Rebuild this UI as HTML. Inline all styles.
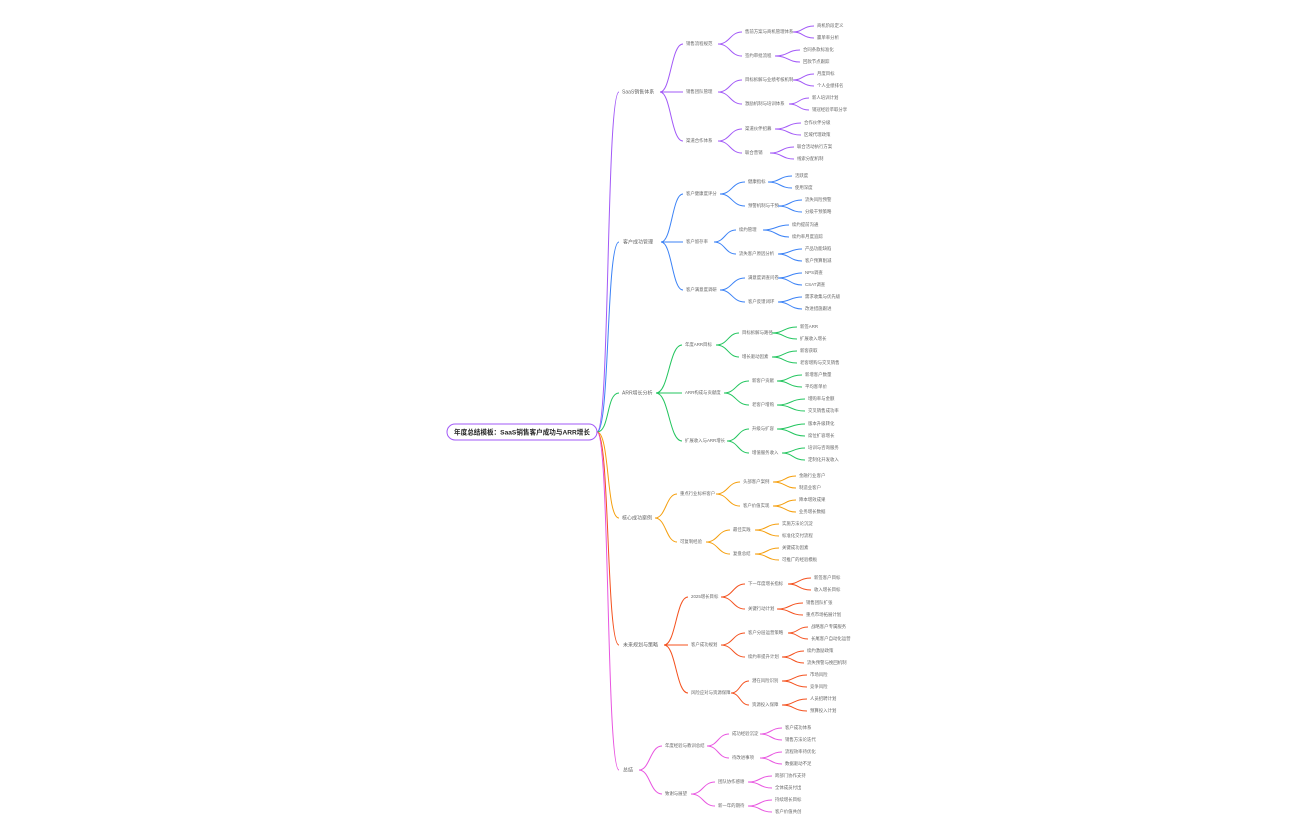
<!DOCTYPE html>
<html><head><meta charset="utf-8"><style>
html,body{margin:0;padding:0;background:#fff;}
svg{display:block}
text{font-family:"Liberation Sans","Noto Sans CJK SC",sans-serif;font-size:4.4px;fill:#666;dominant-baseline:middle}
.l1{font-size:5px}
path{fill:none;stroke-width:1}
.p{stroke:#a259f7}.b{stroke:#3b82f6}.g{stroke:#22c55e}.o{stroke:#f59e0b}.r{stroke:#f4511e}.m{stroke:#e855e0}
</style></head><body>
<svg width="1296" height="840" viewBox="0 0 1296 840" xmlns="http://www.w3.org/2000/svg">
<path class="p" d="M597 432 C610 432,606 92,619 92"/>
<path class="b" d="M597 432 C610 432,606 242,619 242"/>
<path class="g" d="M597 432 C610 432,606 393,619 393"/>
<path class="o" d="M597 432 C610 432,606 518,619 518"/>
<path class="r" d="M597 432 C610 432,606 645,619 645"/>
<path class="m" d="M597 432 C610 432,606 770,619 770"/>
<rect x="447" y="424" width="150" height="16" rx="8" fill="#fff" stroke="#a259f7" stroke-width="1"/>
<text x="522" y="432.5" text-anchor="middle" style="font-size:6.6px;font-weight:bold;fill:#222">年度总结模板：SaaS销售客户成功与ARR增长</text>

<text class="l1" x="622" y="92">SaaS销售体系</text>
<path class="p" d="M660 92 C671 92,671 44,683 44"/><path class="p" d="M660 92 C671 92,671 92,683 92"/><path class="p" d="M660 92 C671 92,671 141,683 141"/>
<text x="686" y="44">销售流程规范</text><text x="686" y="92">销售团队管理</text><text x="686" y="141">渠道合作体系</text>
<path class="p" d="M718 44 C730 44,730 32,742 32"/><path class="p" d="M718 44 C730 44,730 56,742 56"/>
<path class="p" d="M718 92 C730 92,730 80,742 80"/><path class="p" d="M718 92 C730 92,730 104,742 104"/>
<path class="p" d="M718 141 C730 141,730 129,742 129"/><path class="p" d="M718 141 C730 141,730 153,742 153"/>
<text x="745" y="32">售前方案与商机管理体系</text><text x="745" y="56">签约审批流程</text>
<text x="745" y="80">目标拆解与业绩考核机制</text><text x="745" y="104">激励机制与培训体系</text>
<text x="745" y="129">渠道伙伴招募</text><text x="745" y="153">联合营销</text>
<path class="p" d="M793 32 C803 32,803 26,814 26"/><path class="p" d="M793 32 C803 32,803 38,814 38"/>
<path class="p" d="M775 56 C788 56,788 50,800 50"/><path class="p" d="M775 56 C788 56,788 62,800 62"/>
<path class="p" d="M793 80 C803 80,803 74,814 74"/><path class="p" d="M793 80 C803 80,803 86,814 86"/>
<path class="p" d="M789 104 C799 104,799 98,809 98"/><path class="p" d="M789 104 C799 104,799 110,809 110"/>
<path class="p" d="M775 129 C788 129,788 123,801 123"/><path class="p" d="M775 129 C788 129,788 135,801 135"/>
<path class="p" d="M770 153 C782 153,782 147,794 147"/><path class="p" d="M770 153 C782 153,782 159,794 159"/>
<text x="817" y="26">商机阶段定义</text><text x="817" y="38">赢单率分析</text>
<text x="803" y="50">合同条款标准化</text><text x="803" y="62">回款节点跟踪</text>
<text x="817" y="74">月度目标</text><text x="817" y="86">个人业绩排名</text>
<text x="812" y="98">新人培训计划</text><text x="812" y="110">销冠经验萃取分享</text>
<text x="804" y="123">合作伙伴分级</text><text x="804" y="135">区域代理政策</text>
<text x="797" y="147">联合活动执行方案</text><text x="797" y="159">线索分配机制</text>

<text class="l1" x="623" y="242">客户成功管理</text>
<path class="b" d="M661 242 C672 242,672 194,683 194"/><path class="b" d="M661 242 C672 242,672 242,683 242"/><path class="b" d="M661 242 C672 242,672 290,683 290"/>
<text x="686" y="194">客户健康度评分</text><text x="686" y="242">客户留存率</text><text x="686" y="290">客户满意度调研</text>
<path class="b" d="M720 194 C732 194,732 182,745 182"/><path class="b" d="M720 194 C732 194,732 206,745 206"/>
<path class="b" d="M714 242 C725 242,725 230,736 230"/><path class="b" d="M714 242 C725 242,725 254,736 254"/>
<path class="b" d="M720 290 C732 290,732 278,745 278"/><path class="b" d="M720 290 C732 290,732 302,745 302"/>
<text x="748" y="182">健康指标</text><text x="748" y="206">预警机制与干预</text>
<text x="739" y="230">续约管理</text><text x="739" y="254">流失客户原因分析</text>
<text x="748" y="278">满意度调查问卷</text><text x="748" y="302">客户反馈闭环</text>
<path class="b" d="M768 182 C780 182,780 176,792 176"/><path class="b" d="M768 182 C780 182,780 188,792 188"/>
<path class="b" d="M778 206 C790 206,790 200,802 200"/><path class="b" d="M778 206 C790 206,790 212,802 212"/>
<path class="b" d="M763 230 C776 230,776 225,789 225"/><path class="b" d="M763 230 C776 230,776 237,789 237"/>
<path class="b" d="M778 254 C790 254,790 249,802 249"/><path class="b" d="M778 254 C790 254,790 261,802 261"/>
<path class="b" d="M778 278 C790 278,790 273,802 273"/><path class="b" d="M778 278 C790 278,790 285,802 285"/>
<path class="b" d="M778 302 C790 302,790 297,802 297"/><path class="b" d="M778 302 C790 302,790 309,802 309"/>
<text x="795" y="176">活跃度</text><text x="795" y="188">使用深度</text>
<text x="805" y="200">流失风险预警</text><text x="805" y="212">分级干预策略</text>
<text x="792" y="225">续约提前沟通</text><text x="792" y="237">续约率月度追踪</text>
<text x="805" y="249">产品功能缺陷</text><text x="805" y="261">客户预算削减</text>
<text x="805" y="273">NPS调查</text><text x="805" y="285">CSAT调查</text>
<text x="805" y="297">需求收集与优先级</text><text x="805" y="309">改进措施跟进</text>

<text class="l1" x="622" y="393">ARR增长分析</text>
<path class="g" d="M656 393 C669 393,669 345,682 345"/><path class="g" d="M656 393 C669 393,669 393,682 393"/><path class="g" d="M656 393 C669 393,669 441,682 441"/>
<text x="685" y="345">年度ARR目标</text><text x="685" y="393">ARR构成与贡献度</text><text x="685" y="441">扩展收入与ARR增长</text>
<path class="g" d="M716 345 C728 345,728 333,739 333"/><path class="g" d="M716 345 C728 345,728 357,739 357"/>
<path class="g" d="M724 393 C736 393,736 381,749 381"/><path class="g" d="M724 393 C736 393,736 405,749 405"/>
<path class="g" d="M727 441 C738 441,738 429,749 429"/><path class="g" d="M727 441 C738 441,738 453,749 453"/>
<text x="742" y="333">目标拆解与路径</text><text x="742" y="357">增长驱动因素</text>
<text x="752" y="381">新客户贡献</text><text x="752" y="405">老客户增购</text>
<text x="752" y="429">升级与扩容</text><text x="752" y="453">增值服务收入</text>
<path class="g" d="M772 333 C784 333,784 327,797 327"/><path class="g" d="M772 333 C784 333,784 339,797 339"/>
<path class="g" d="M772 357 C784 357,784 351,797 351"/><path class="g" d="M772 357 C784 357,784 363,797 363"/>
<path class="g" d="M777 381 C789 381,789 375,802 375"/><path class="g" d="M777 381 C789 381,789 387,802 387"/>
<path class="g" d="M777 405 C791 405,791 399,805 399"/><path class="g" d="M777 405 C791 405,791 411,805 411"/>
<path class="g" d="M777 429 C791 429,791 424,805 424"/><path class="g" d="M777 429 C791 429,791 436,805 436"/>
<path class="g" d="M782 453 C793 453,793 448,805 448"/><path class="g" d="M782 453 C793 453,793 460,805 460"/>
<text x="800" y="327">新签ARR</text><text x="800" y="339">扩展收入增长</text>
<text x="800" y="351">新客获取</text><text x="800" y="363">老客增购与交叉销售</text>
<text x="805" y="375">新增客户数量</text><text x="805" y="387">平均客单价</text>
<text x="808" y="399">增购率与金额</text><text x="808" y="411">交叉销售成功率</text>
<text x="808" y="424">版本升级转化</text><text x="808" y="436">席位扩容增长</text>
<text x="808" y="448">培训与咨询服务</text><text x="808" y="460">定制化开发收入</text>

<text class="l1" x="622" y="518">核心成功案例</text>
<path class="o" d="M655 518 C666 518,666 494,677 494"/><path class="o" d="M655 518 C666 518,666 542,677 542"/>
<text x="680" y="494">重点行业标杆客户</text><text x="680" y="542">可复制经验</text>
<path class="o" d="M716 494 C728 494,728 482,740 482"/><path class="o" d="M716 494 C728 494,728 506,740 506"/>
<path class="o" d="M706 542 C718 542,718 530,730 530"/><path class="o" d="M706 542 C718 542,718 554,730 554"/>
<text x="743" y="482">头部客户案例</text><text x="743" y="506">客户价值实现</text>
<text x="733" y="530">最佳实践</text><text x="733" y="554">复盘总结</text>
<path class="o" d="M773 482 C785 482,785 476,796 476"/><path class="o" d="M773 482 C785 482,785 488,796 488"/>
<path class="o" d="M773 506 C785 506,785 500,796 500"/><path class="o" d="M773 506 C785 506,785 512,796 512"/>
<path class="o" d="M755 530 C767 530,767 524,779 524"/><path class="o" d="M755 530 C767 530,767 536,779 536"/>
<path class="o" d="M755 554 C767 554,767 548,779 548"/><path class="o" d="M755 554 C767 554,767 560,779 560"/>
<text x="799" y="476">金融行业客户</text><text x="799" y="488">制造业客户</text>
<text x="799" y="500">降本增效成果</text><text x="799" y="512">业务增长数据</text>
<text x="782" y="524">实施方法论沉淀</text><text x="782" y="536">标准化交付流程</text>
<text x="782" y="548">关键成功因素</text><text x="782" y="560">可推广的经验模板</text>

<text class="l1" x="623" y="645">未来规划与策略</text>
<path class="r" d="M664 645 C676 645,676 597,688 597"/><path class="r" d="M664 645 C676 645,676 645,688 645"/><path class="r" d="M664 645 C676 645,676 693,688 693"/>
<text x="691" y="597">2025增长目标</text><text x="691" y="645">客户成功规划</text><text x="691" y="693">风险应对与资源保障</text>
<path class="r" d="M721 597 C733 597,733 584,745 584"/><path class="r" d="M721 597 C733 597,733 609,745 609"/>
<path class="r" d="M721 645 C733 645,733 633,745 633"/><path class="r" d="M721 645 C733 645,733 657,745 657"/>
<path class="r" d="M731 693 C740 693,740 681,749 681"/><path class="r" d="M731 693 C740 693,740 705,749 705"/>
<text x="748" y="584">下一年度增长指标</text><text x="748" y="609">关键行动计划</text>
<text x="748" y="633">客户分层运营策略</text><text x="748" y="657">续约率提升计划</text>
<text x="752" y="681">潜在风险识别</text><text x="752" y="705">资源投入保障</text>
<path class="r" d="M788 584 C799 584,799 578,811 578"/><path class="r" d="M788 584 C799 584,799 590,811 590"/>
<path class="r" d="M777 609 C790 609,790 603,803 603"/><path class="r" d="M777 609 C790 609,790 615,803 615"/>
<path class="r" d="M788 633 C798 633,798 627,808 627"/><path class="r" d="M788 633 C798 633,798 639,808 639"/>
<path class="r" d="M782 657 C793 657,793 651,804 651"/><path class="r" d="M782 657 C793 657,793 663,804 663"/>
<path class="r" d="M782 681 C794 681,794 675,807 675"/><path class="r" d="M782 681 C794 681,794 687,807 687"/>
<path class="r" d="M782 705 C794 705,794 699,807 699"/><path class="r" d="M782 705 C794 705,794 711,807 711"/>
<text x="814" y="578">新签客户目标</text><text x="814" y="590">收入增长目标</text>
<text x="806" y="603">销售团队扩张</text><text x="806" y="615">重点市场拓展计划</text>
<text x="811" y="627">战略客户专属服务</text><text x="811" y="639">长尾客户自动化运营</text>
<text x="807" y="651">续约激励政策</text><text x="807" y="663">流失预警与挽回机制</text>
<text x="810" y="675">市场风险</text><text x="810" y="687">竞争风险</text>
<text x="810" y="699">人员招聘计划</text><text x="810" y="711">预算投入计划</text>

<text class="l1" x="623" y="770">总结</text>
<path class="m" d="M639 770 C650 770,650 746,662 746"/><path class="m" d="M639 770 C650 770,650 794,662 794"/>
<text x="665" y="746">年度经验与教训总结</text><text x="665" y="794">致谢与展望</text>
<path class="m" d="M707 746 C718 746,718 734,729 734"/><path class="m" d="M707 746 C718 746,718 758,729 758"/>
<path class="m" d="M691 794 C703 794,703 782,715 782"/><path class="m" d="M691 794 C703 794,703 806,715 806"/>
<text x="732" y="734">成功经验沉淀</text><text x="732" y="758">待改进事项</text>
<text x="718" y="782">团队协作感谢</text><text x="718" y="806">新一年的期待</text>
<path class="m" d="M760 734 C771 734,771 728,782 728"/><path class="m" d="M760 734 C771 734,771 740,782 740"/>
<path class="m" d="M760 758 C771 758,771 752,782 752"/><path class="m" d="M760 758 C771 758,771 764,782 764"/>
<path class="m" d="M748 782 C760 782,760 776,772 776"/><path class="m" d="M748 782 C760 782,760 788,772 788"/>
<path class="m" d="M748 806 C760 806,760 800,772 800"/><path class="m" d="M748 806 C760 806,760 812,772 812"/>
<text x="785" y="728">客户成功体系</text><text x="785" y="740">销售方法论迭代</text>
<text x="785" y="752">流程效率待优化</text><text x="785" y="764">数据驱动不足</text>
<text x="775" y="776">跨部门协作支持</text><text x="775" y="788">全体成员付出</text>
<text x="775" y="800">持续增长目标</text><text x="775" y="812">客户价值共创</text>
</svg>
</body></html>
